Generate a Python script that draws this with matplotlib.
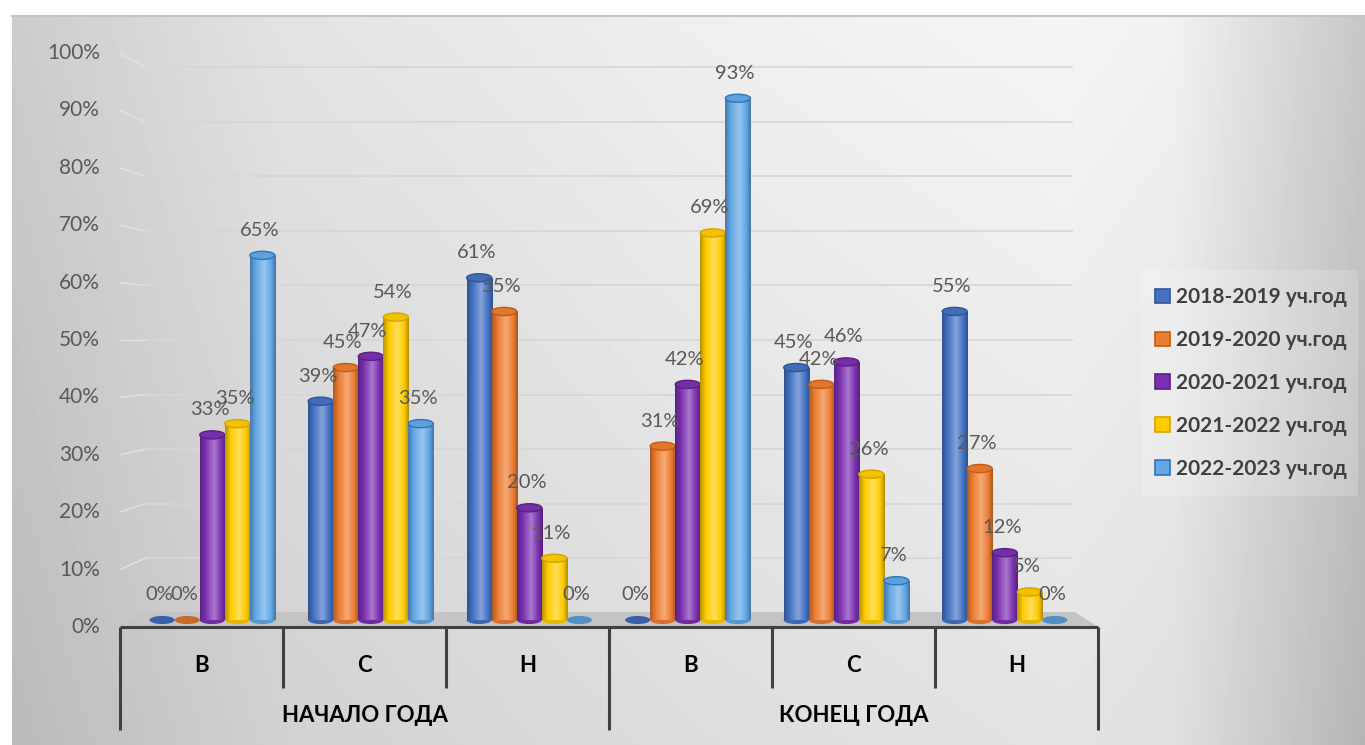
import numpy as np
import matplotlib
matplotlib.use("Agg")
import matplotlib.pyplot as plt
from matplotlib.patches import Ellipse, Patch, Polygon
from matplotlib.colors import LinearSegmentedColormap, to_rgb

plt.rcParams['font.family'] = ['Lato', 'Open Sans', 'DejaVu Sans']

# data
periods = ['НАЧАЛО ГОДА', 'КОНЕЦ ГОДА']
levels = ['В', 'С', 'Н']
series = ['2018-2019 уч.год', '2019-2020 уч.год', '2020-2021 уч.год',
          '2021-2022 уч.год', '2022-2023 уч.год']
values = {
    '2018-2019 уч.год': [0, 39, 61, 0, 45, 55],
    '2019-2020 уч.год': [0, 45, 55, 31, 42, 27],
    '2020-2021 уч.год': [33, 47, 20, 42, 46, 12],
    '2021-2022 уч.год': [35, 54, 11, 69, 26, 5],
    '2022-2023 уч.год': [65, 35, 0, 93, 7, 0],
}
colors = ['#4472C4', '#ED7D31', '#7A30B0', '#FFCC00', '#62A8E6']
edge_colors = ['#2F5597', '#C55A11', '#5A2080', '#D4A500', '#2E75B6']
yticks = list(range(0, 101, 10))

W, H = 1365, 745
fig = plt.figure(figsize=(W / 100, H / 100), dpi=100)
fig.patch.set_facecolor('white')


def mix(c, other, a):
    c = np.array(to_rgb(c))
    o = np.array(to_rgb(other))
    return tuple(c * (1 - a) + o * a)


# background / decoration layer in pixel units
bg = fig.add_axes([0, 0, 1, 1])
bg.set_xlim(0, W)
bg.set_ylim(H, 0)
bg.axis('off')

xs = np.linspace(0, 1, 400)
fx = np.interp(xs, [0, 0.2, 0.5, 0.78, 0.86, 1.0], [0.80, 0.89, 0.935, 0.96, 0.945, 0.78])
ys = np.linspace(0, 1, 200)[:, None]
grad = fx[None, :] - 0.07 * ys
bg.imshow(grad, cmap='gray', vmin=0, vmax=1, extent=(12, W, H, 15), aspect='auto', zorder=0)
bg.plot([12, W], [15.5, 15.5], color='#c4c4c4', lw=1.5, zorder=1)

# back wall gridlines and side wall
for v in yticks[1:]:
    yb = 613 - 5.46 * v
    yf = 627 - 5.74 * v
    bg.plot([145, 1072], [yb, yb], color='#d6d6d6', lw=1.2, zorder=1)
    bg.plot([120, 145], [yf, yb], color='#e2e2e2', lw=1.0, zorder=1)

# floor
floor = Polygon([[120, 627], [145, 612], [1075, 612], [1098, 627]], closed=True,
                facecolor='#c4c4c4', edgecolor='none', zorder=1)
bg.add_patch(floor)

# y tick labels (front edge)
for v in yticks:
    bg.text(100, 627 - 5.74 * v, f'{v}%', ha='right', va='center', fontsize=15,
            color='#595959', zorder=2)

# category box
axc = '#404040'
x0, step = 120, 163
bg.plot([x0, x0 + 6 * step], [627, 627], color=axc, lw=2.2, zorder=3, solid_capstyle='butt')
for i in range(7):
    xx = x0 + i * step
    y_end = 730 if i % 3 == 0 else 688
    bg.plot([xx, xx], [627, y_end], color=axc, lw=2.2, zorder=3, solid_capstyle='butt')
for p, period in enumerate(periods):
    for k, lev in enumerate(levels):
        cx = x0 + (p * 3 + k + 0.5) * step
        bg.text(cx, 665, lev, ha='center', va='center', fontsize=16,
                fontweight='bold', color='black', zorder=3)
    bg.text(x0 + (p * 3 + 1.5) * step, 715, period, ha='center', va='center',
            fontsize=16, fontweight='bold', color='black', zorder=3)

# legend background
bg.add_patch(plt.Rectangle((1142, 270), 216, 226, facecolor='white', alpha=0.18,
                           edgecolor='none', zorder=1))

# bars layer
ax = fig.add_axes([133 / W, (H - 620) / H, 951 / W, 561 / H])
ax.patch.set_alpha(0)
ax.axis('off')

n_cat = len(periods) * len(levels)
bw = 0.158
eh = 1.45
grad_row = np.linspace(0, 1, 64)[None, :]

for j, name in enumerate(series):
    base = colors[j]
    cmap = LinearSegmentedColormap.from_list(
        f'cyl{j}',
        [(0.0, mix(base, 'black', 0.28)), (0.22, base),
         (0.55, mix(base, 'white', 0.35)), (0.82, base),
         (1.0, mix(base, 'black', 0.3))])
    xpos = np.arange(n_cat) + 0.5 + (j - 2) * bw
    vals = values[name]
    bars = ax.bar(xpos, vals, width=bw, color=base, edgecolor='none', zorder=3 + j * 0.01)
    for xc, v, rect in zip(xpos, vals, bars):
        if v > 0:
            im = ax.imshow(grad_row, cmap=cmap, extent=(xc - bw / 2, xc + bw / 2, 0, v),
                           aspect='auto', zorder=3.001 + j * 0.01)
            im.set_clip_path(rect)
            ax.add_patch(Ellipse((xc, 0), bw, eh, facecolor=mix(base, 'black', 0.1),
                                 edgecolor='none', zorder=2.9, clip_on=False))
            ax.add_patch(Ellipse((xc, v), bw, eh, facecolor=mix(base, 'black', 0.05),
                                 edgecolor=edge_colors[j], lw=1.0, zorder=3.005 + j * 0.01,
                                 clip_on=False))
        else:
            ax.add_patch(Ellipse((xc, 0), bw, eh, facecolor=mix(base, 'black', 0.15),
                                 edgecolor='none', zorder=2.9, clip_on=False))
        ax.annotate(f'{v}%', (xc, v), xytext=(-2, 18), textcoords='offset points',
                    ha='center', va='center', fontsize=14.5, color='#595959',
                    zorder=10, annotation_clip=False)

ax.set_xlim(0, n_cat)
ax.set_ylim(0, 100)

handles = [Patch(facecolor=colors[j], edgecolor=edge_colors[j], lw=1.2, label=s)
           for j, s in enumerate(series)]
leg = fig.legend(handles=handles, loc='center', bbox_to_anchor=(1251 / W, (H - 383) / H),
                 frameon=False, labelspacing=1.1, handlelength=0.7,
                 handleheight=0.7, handletextpad=0.3,
                 prop={'weight': 'bold', 'size': 15})
for t in leg.get_texts():
    t.set_color('#404040')

fig.savefig('out.png', dpi=100)
